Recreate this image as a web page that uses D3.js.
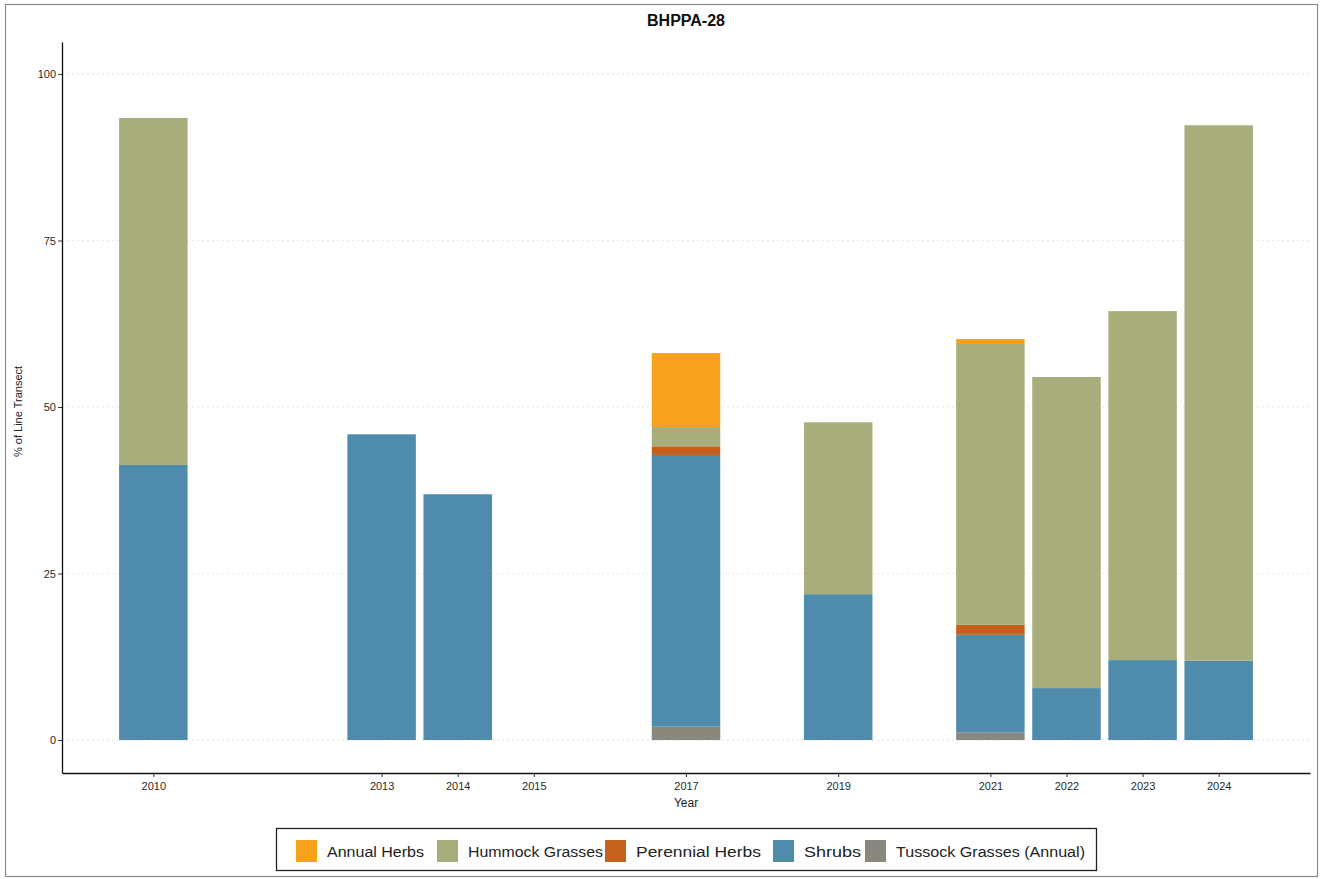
<!DOCTYPE html>
<html>
<head>
<meta charset="utf-8">
<script src="https://cdn.jsdelivr.net/npm/d3@7"></script>
<style>
  html, body { margin: 0; padding: 0; background: #fff; }
  svg { display: block; font-family: "Liberation Sans", Arial, sans-serif; }
</style>
</head>
<body>
<svg id="chart" width="1321" height="879"></svg>
<script>
// Survey years shown on the axis
const years = [2010, 2013, 2014, 2015, 2017, 2019, 2021, 2022, 2023, 2024];

// Cover groups, stacked bottom to top
const groups = ["Tussock Grasses (Annual)", "Shrubs", "Perennial Herbs", "Hummock Grasses", "Annual Herbs"];
const legendOrder = ["Annual Herbs", "Hummock Grasses", "Perennial Herbs", "Shrubs", "Tussock Grasses (Annual)"];

// % of line transect per group, one value per year
const annualHerbs    = [0,    0,    0,    0, 11.1, 0,    0.6,  0,    0,    0];
const hummockGrasses = [52.1, 0,    0,    0, 2.9,  25.8, 42.3, 46.7, 52.4, 80.4];
const perennialHerbs = [0,    0,    0,    0, 1.3,  0,    1.5,  0,    0,    0];
const shrubs         = [41.3, 45.9, 36.9, 0, 40.8, 21.9, 14.7, 7.8,  12.0, 11.9];
const tussockGrasses = [0,    0,    0,    0, 2.0,  0,    1.1,  0,    0,    0];

const yTicks = [0, 25, 50, 75, 100];

const colours = {
  "Annual Herbs": "#f7a11d",
  "Hummock Grasses": "#a9ad7b",
  "Perennial Herbs": "#c5601d",
  "Shrubs": "#4f8bab",
  "Tussock Grasses (Annual)": "#8a887d"
};

const rows = years.map((yr, i) => ({
  year: yr,
  "Annual Herbs": annualHerbs[i],
  "Hummock Grasses": hummockGrasses[i],
  "Perennial Herbs": perennialHerbs[i],
  "Shrubs": shrubs[i],
  "Tussock Grasses (Annual)": tussockGrasses[i]
}));

const svg = d3.select("#chart");

// outer frame
svg.append("rect")
  .attr("x", 5.5).attr("y", 4.5).attr("width", 1312).attr("height", 872)
  .attr("fill", "#fff").attr("stroke", "#8a8a8a").attr("stroke-width", 1.2);

const plot = { left: 62, right: 1310, top: 42, bottom: 773 };

const x = d3.scaleLinear().domain([2008.8, 2025.2]).range([plot.left, plot.right]);
const y = d3.scaleLinear().domain([-4.95, 104.8]).range([plot.bottom, plot.top]);
const barW = x(2010.9) - x(2010);

// faint dotted gridlines
svg.append("g").selectAll("line").data(yTicks).join("line")
  .attr("x1", plot.left).attr("x2", plot.right)
  .attr("y1", d => y(d)).attr("y2", d => y(d))
  .attr("stroke", "#e6e6e6").attr("stroke-width", 1.2)
  .attr("stroke-dasharray", "2,3");

// stacked bars
const stack = d3.stack().keys(groups)(rows);
svg.append("g").selectAll("g").data(stack).join("g")
  .attr("fill", s => colours[s.key])
  .selectAll("rect").data(s => s.filter(d => d[1] - d[0] > 0)).join("rect")
  .attr("x", d => x(d.data.year) - barW / 2)
  .attr("width", barW)
  .attr("y", d => y(d[1]))
  .attr("height", d => y(d[0]) - y(d[1]));

// axes
const xAxis = svg.append("g")
  .attr("transform", `translate(0,${plot.bottom})`)
  .call(d3.axisBottom(x).tickValues(years).tickFormat(d3.format("d")).tickSize(4).tickSizeOuter(0));
const yAxis = svg.append("g")
  .attr("transform", `translate(${plot.left},0)`)
  .call(d3.axisLeft(y).tickValues(yTicks).tickSize(4).tickSizeOuter(0));

[xAxis, yAxis].forEach(a => {
  a.select(".domain").attr("stroke", "#111").attr("stroke-width", 1.3);
  a.selectAll(".tick line").attr("stroke", "#333");
  a.selectAll(".tick text").attr("fill", "#2a2a2a").style("font-size", "11px")
    .style("font-family", "'Liberation Sans', Arial, sans-serif");
});
xAxis.selectAll(".tick text").attr("dy", "0.95em");
yAxis.selectAll(".tick text").attr("x", -6);

// titles
svg.append("text").attr("x", 686).attr("y", 26).attr("text-anchor", "middle")
  .style("font-size", "16px").style("font-weight", "bold").attr("fill", "#111")
  .text("BHPPA-28");
svg.append("text").attr("x", 686).attr("y", 807).attr("text-anchor", "middle")
  .style("font-size", "12px").attr("fill", "#222").text("Year");
svg.append("text")
  .attr("transform", `translate(22,${(plot.top + plot.bottom) / 2 + 4}) rotate(-90)`)
  .attr("text-anchor", "middle").style("font-size", "11px").attr("fill", "#222")
  .text("% of Line Transect");

// legend
const legend = svg.append("g");
legend.append("rect").attr("x", 276.5).attr("y", 828.5).attr("width", 820).attr("height", 42)
  .attr("fill", "#fff").attr("stroke", "#222").attr("stroke-width", 1.3);
const keyX = [296, 437, 605, 773, 865];
const items = legend.selectAll("g.item").data(legendOrder).join("g")
  .attr("class", "item")
  .attr("transform", (d, i) => `translate(${keyX[i]},840)`);
items.append("rect").attr("width", 21).attr("height", 22)
  .attr("fill", d => colours[d]);
items.append("text").attr("x", 31).attr("y", 16.5).style("font-size", "14px").attr("fill", "#222")
  .attr("textLength", (d, i) => [97, 135, 125, 57, 189][i]).attr("lengthAdjust", "spacingAndGlyphs")
  .text(d => d);
</script>
</body>
</html>
